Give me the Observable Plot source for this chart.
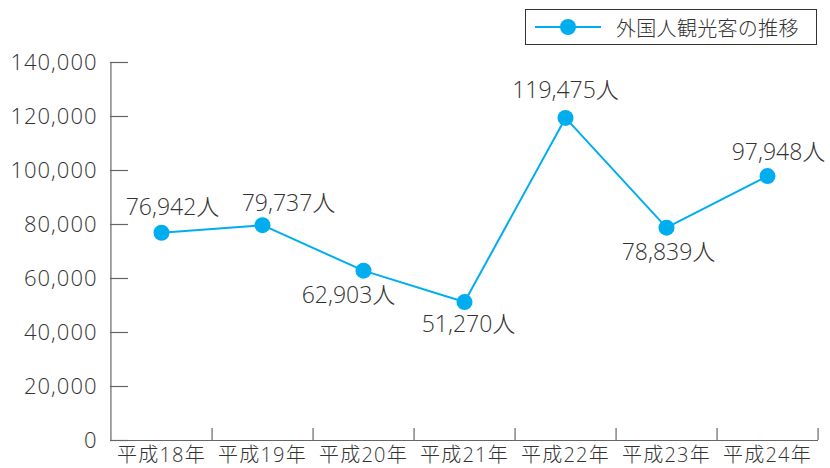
<!DOCTYPE html>
<html>
<head>
<meta charset="utf-8">
<script src="https://cdn.jsdelivr.net/npm/d3@7"></script>
<script src="https://cdn.jsdelivr.net/npm/@observablehq/plot@0.6"></script>
<style>
  html, body { margin: 0; padding: 0; background: #fff; }
  #wrap { position: relative; width: 830px; height: 468px; font-family: "Open Sans", "Noto Sans CJK JP", sans-serif; font-weight: 300; }
  #legend { position: absolute; left: 525px; top: 9px; width: 292px; height: 36px; border: 1px solid #333; background: #fff; display: flex; align-items: center; box-sizing: border-box; }
  #legend span { font-size: 20px; color: #333; margin-left: 3px; letter-spacing: 0.3px; }
</style>
</head>
<body>
<div id="wrap"></div>
<script>
const years = ["平成18年", "平成19年", "平成20年", "平成21年", "平成22年", "平成23年", "平成24年"];
const visitors = [76942, 79737, 62903, 51270, 119475, 78839, 97948];
const yTicks = [0, 20000, 40000, 60000, 80000, 100000, 120000, 140000];
const seriesName = "外国人観光客の推移";
const unit = "人";

const data = years.map((year, i) => ({year, value: visitors[i], i}));

const W = 830, H = 468;
const mL = 110, mR = 12, mT = 62, mB = 28;
const step = (W - mL - mR) / years.length;
const blue = "#00aeef";
const axisColor = "#666";
const textColor = "#333";
const fmt = d3.format(",");
const fontFamily = '"Open Sans", "Noto Sans CJK JP", sans-serif';

// label offsets per point (mark option, not data)
const offsets = [[11, -25], [26, -22], [-15, 25], [4, 23], [0, -27], [2, 25], [11, -23]];

const labelMarks = offsets.map(([dx, dy], k) =>
  Plot.text(data.filter(d => d.i === k), {
    x: "year", y: "value", text: d => fmt(d.value) + unit,
    dx, dy, fontSize: 23, fontWeight: 300, fill: textColor, textAnchor: "middle", lineAnchor: "middle",
    style: "letter-spacing:2px"
  })
);

const chart = Plot.plot({
  width: W, height: H,
  marginLeft: mL, marginRight: mR, marginTop: mT, marginBottom: mB,
  style: {fontFamily, fontWeight: 300, background: "transparent"},
  x: {type: "point", domain: years, padding: 0.5, label: null},
  y: {domain: [0, 140000], label: null},
  marks: [
    Plot.axisY({ticks: yTicks, tickSize: 0, tickPadding: 13, tickFormat: fmt, fontSize: 22, color: textColor, label: null}),
    Plot.axisX({tickSize: 0, tickPadding: 7, fontSize: 20, color: textColor, label: null}),
    Plot.ruleY(yTicks, {y: d => d, insetRight: (W - mL - mR) - 18, stroke: axisColor, strokeWidth: 1.2}),
    Plot.ruleX(years, {x: d => d, y1: 0, y2: 0, insetTop: -12, dx: step / 2, stroke: axisColor, strokeWidth: 1.2}),
    Plot.ruleX([years[0]], {x: d => d, y1: 0, y2: 140000, dx: -step / 2, stroke: axisColor, strokeWidth: 1.2}),
    Plot.ruleY([0], {stroke: axisColor, strokeWidth: 1.2}),
    Plot.line(data, {x: "year", y: "value", stroke: blue, strokeWidth: 2}),
    Plot.dot(data, {x: "year", y: "value", r: 8, fill: blue, stroke: "none"}),
    ...labelMarks
  ]
});

const wrap = document.getElementById("wrap");
wrap.appendChild(chart);
chart.querySelectorAll('g[aria-label="y-axis tick label"] text').forEach(t => t.style.letterSpacing = "1px");
chart.querySelectorAll('g[aria-label="x-axis tick label"] text').forEach(t => t.style.letterSpacing = "1.2px");

const legend = document.createElement("div");
legend.id = "legend";
legend.innerHTML = `<svg width="78" height="34" style="margin-left:9px"><line x1="0" y1="17" x2="66" y2="17" stroke="${blue}" stroke-width="2"/><circle cx="33" cy="17" r="8" fill="${blue}"/></svg><span>${seriesName}</span>`;
wrap.appendChild(legend);
</script>
</body>
</html>
